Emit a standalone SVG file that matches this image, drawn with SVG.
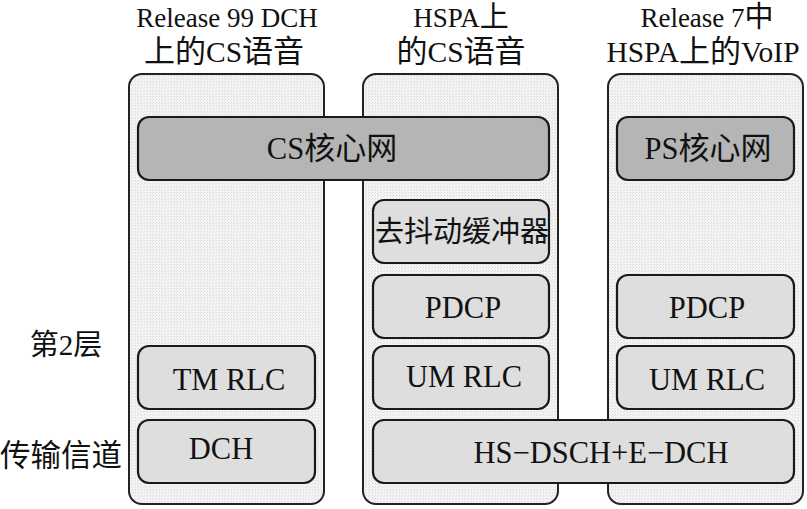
<svg xmlns="http://www.w3.org/2000/svg" width="807" height="509" viewBox="0 0 807 509">
<defs>
<pattern id="dots" width="3" height="3" patternUnits="userSpaceOnUse">
<rect width="3" height="3" fill="#f4f4f4"/>
<rect width="1" height="1" fill="#d8d8d8"/>
<rect x="2" y="1" width="1" height="1" fill="#e2e2e2"/>
</pattern>
</defs>
<style>
.col{fill:url(#dots);stroke:#222;stroke-width:2}
.box{fill:#dedede;stroke:#1a1a1a;stroke-width:2.2}
.core{fill:#b5b5b5;stroke:#1a1a1a;stroke-width:2.2}
text{font-family:'Liberation Serif','Times New Roman','Noto Sans CJK SC',serif;font-size:27px;fill:#111;text-anchor:middle}
.lb{font-size:30.5px}
.h2{font-size:29.5px}
.c{font-size:31px}
.h{font-size:29px}
</style>
<rect width="807" height="509" fill="#fff"/>
<g id="col1"><rect class="col" x="129" y="74" width="195" height="430" rx="13"/></g>
<g id="col2"><rect class="col" x="363" y="74" width="195" height="430" rx="13"/></g>
<g id="col3"><rect class="col" x="608" y="74" width="195" height="430" rx="13"/></g>
<g id="headers">
<text x="227" y="27">Release 99 DCH</text>
<text class="h2" x="224" y="62"><tspan class="c">上的</tspan>CS<tspan class="c">语音</tspan></text>
<text x="461" y="27">HSPA<tspan class="h">上</tspan></text>
<text class="h2" x="461" y="62"><tspan class="c">的</tspan>CS<tspan class="c">语音</tspan></text>
<text x="707" y="27">Release 7<tspan class="h">中</tspan></text>
<text class="h2" x="703" y="62">HSPA<tspan class="c">上的</tspan>VoIP</text>
</g>
<g id="labels">
<text x="66" y="355" style="font-size:29px">第2层</text>
<text x="61" y="466" style="font-size:30.5px">传输信道</text>
</g>
<g id="cs-core"><rect class="core" x="138" y="117" width="411" height="63" rx="11"/><text class="lb" x="332" y="159">CS<tspan class="c">核心网</tspan></text></g>
<g id="ps-core"><rect class="core" x="617" y="117" width="177" height="63" rx="11"/><text class="lb" x="708" y="159">PS<tspan class="c">核心网</tspan></text></g>
<g id="dejitter"><rect class="box" x="373" y="200" width="176" height="63" rx="11"/><text x="462" y="242" style="font-size:29px">去抖动缓冲器</text></g>
<g id="pdcp2"><rect class="box" x="373" y="275" width="176" height="63" rx="11"/><text class="lb" x="463" y="318">PDCP</text></g>
<g id="pdcp3"><rect class="box" x="617" y="275" width="177" height="63" rx="11"/><text class="lb" x="707" y="318">PDCP</text></g>
<g id="tmrlc"><rect class="box" x="138" y="346" width="177" height="63" rx="11"/><text class="lb" x="229" y="390">TM RLC</text></g>
<g id="umrlc2"><rect class="box" x="373" y="346" width="176" height="63" rx="11"/><text class="lb" x="464" y="387">UM RLC</text></g>
<g id="umrlc3"><rect class="box" x="617" y="346" width="177" height="63" rx="11"/><text class="lb" x="707" y="390">UM RLC</text></g>
<g id="dch"><rect class="box" x="138" y="420" width="177" height="63" rx="11"/><text class="lb" x="221" y="459">DCH</text></g>
<g id="hsdsch"><rect class="box" x="373" y="420" width="421" height="63" rx="11"/><text class="lb" x="601" y="463">HS−DSCH+E−DCH</text></g>
<g id="connectors"></g>
</svg>
